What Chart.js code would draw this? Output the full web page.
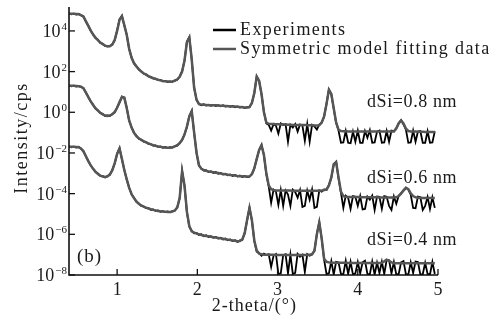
<!DOCTYPE html>
<html><head><meta charset="utf-8">
<script src="https://cdn.jsdelivr.net/npm/chart.js@4/dist/chart.umd.min.js"></script>
<style>html,body{margin:0;padding:0;background:#fff}canvas{display:block}</style>
</head><body>
<canvas id="c" width="500" height="324"></canvas>
<script>
// 2-theta sample positions (degrees)
const xGrid = [
0.40,0.43,0.46,0.49,0.52,0.55,0.58,0.61,0.64,0.67,
0.70,0.73,0.76,0.79,0.82,0.85,0.88,0.91,0.94,0.97,
1.00,1.03,1.06,1.09,1.12,1.15,1.18,1.21,1.24,1.27,
1.30,1.33,1.36,1.39,1.42,1.45,1.48,1.51,1.54,1.57,
1.60,1.63,1.66,1.69,1.72,1.75,1.78,1.81,1.84,1.87,
1.90,1.93,1.96,1.99,2.02,2.05,2.08,2.11,2.14,2.17,
2.20,2.23,2.26,2.29,2.32,2.35,2.38,2.41,2.44,2.47,
2.50,2.53,2.56,2.59,2.62,2.65,2.68,2.71,2.74,2.77,
2.80,2.83,2.86,2.89,2.92,2.95,2.98,3.01,3.04,3.07,
3.10,3.13,3.16,3.19,3.22,3.25,3.28,3.31,3.34,3.37,
3.40,3.43,3.46,3.49,3.52,3.55,3.58,3.61,3.64,3.67,
3.70,3.73,3.76,3.79,3.82,3.85,3.88,3.91,3.94,3.97,
4.00,4.03,4.06,4.09,4.12,4.15,4.18,4.21,4.24,4.27,
4.30,4.33,4.36,4.39,4.42,4.45,4.48,4.51,4.54,4.57,
4.60,4.63,4.66,4.69,4.72,4.75,4.78,4.81,4.84,4.87,
4.90,4.93,4.96];

// log10(intensity / cps)
// dSi = 0.8 nm
const topFitLog = [
4.84,4.84,4.84,4.83,4.82,4.78,4.70,4.48,4.25,4.03,
3.82,3.67,3.55,3.43,3.35,3.28,3.24,3.26,3.33,3.56,
4.00,4.55,4.72,4.28,3.80,3.12,2.68,2.42,2.25,2.12,
2.00,1.92,1.85,1.78,1.72,1.68,1.64,1.60,1.57,1.54,
1.52,1.51,1.50,1.52,1.55,1.62,1.74,2.00,2.55,3.45,
3.68,2.60,1.20,0.62,0.40,0.38,0.37,0.36,0.35,0.35,
0.34,0.34,0.33,0.32,0.32,0.31,0.30,0.30,0.29,0.28,
0.27,0.26,0.25,0.24,0.23,0.26,0.45,0.95,1.75,1.55,
0.90,0.00,-0.50,-0.57,-0.58,-0.58,-0.59,-0.59,-0.60,-0.60,
-0.60,-0.61,-0.61,-0.62,-0.62,-0.62,-0.63,-0.63,-0.63,-0.64,
-0.64,-0.64,-0.65,-0.65,-0.64,-0.50,-0.20,0.40,1.10,0.90,
0.20,-0.50,-0.85,-0.92,-0.93,-0.93,-0.94,-0.94,-0.94,-0.94,
-0.94,-0.94,-0.94,-0.94,-0.94,-0.95,-0.95,-0.95,-0.95,-0.95,
-0.95,-0.95,-0.95,-0.95,-0.95,-0.95,-0.80,-0.55,-0.40,-0.55,
-0.80,-0.92,-0.94,-0.95,-0.95,-0.96,-0.96,-0.96,-0.97,-0.97,
-0.97,-0.97,-0.97];
const topExpLog = [
4.86,4.82,4.85,4.81,4.84,4.76,4.72,4.46,4.27,4.01,
3.84,3.65,3.57,3.41,3.37,3.26,3.25,3.24,3.35,3.54,
4.03,4.57,4.75,4.25,3.82,3.10,2.70,2.40,2.27,2.10,
2.02,1.90,1.87,1.76,1.74,1.66,1.65,1.58,1.59,1.52,
1.54,1.49,1.52,1.50,1.57,1.60,1.76,2.02,2.53,3.48,
3.70,2.58,1.22,0.60,0.42,0.35,0.39,0.33,0.37,0.32,
0.36,0.31,0.35,0.29,0.34,0.28,0.32,0.27,0.31,0.25,
0.29,0.23,0.27,0.21,0.25,0.24,0.47,0.93,1.77,1.53,
0.88,0.02,-0.55,-0.62,-0.90,-0.58,-0.66,-1.05,-0.55,-0.62,
-0.58,-1.45,-0.62,-0.75,-0.58,-0.95,-0.60,-0.66,-1.40,-0.58,
-1.45,-0.62,-0.70,-0.85,-0.60,-0.52,-0.22,0.42,1.12,0.88,
0.18,-0.52,-0.90,-1.50,-1.48,-0.92,-1.50,-1.52,-0.95,-1.45,
-0.90,-1.50,-1.50,-0.92,-1.25,-0.88,-1.50,-1.48,-0.95,-0.90,
-1.50,-1.48,-0.92,-1.45,-0.90,-0.93,-0.78,-0.53,-0.38,-0.60,
-0.85,-1.50,-1.48,-0.90,-1.45,-0.95,-0.92,-1.50,-1.50,-0.93,
-1.50,-1.48,-0.94];

// dSi = 0.6 nm
const midFitLog = [
1.30,1.30,1.30,1.29,1.28,1.26,1.18,0.98,0.75,0.55,
0.36,0.20,0.08,-0.02,-0.10,-0.16,-0.18,-0.16,-0.10,0.02,
0.22,0.50,0.75,0.72,0.20,-0.40,-0.75,-1.00,-1.17,-1.28,
-1.36,-1.42,-1.48,-1.53,-1.58,-1.62,-1.65,-1.68,-1.70,-1.72,
-1.73,-1.74,-1.74,-1.72,-1.68,-1.62,-1.52,-1.35,-1.10,-0.70,
-0.20,0.05,-1.00,-2.00,-2.60,-2.78,-2.84,-2.88,-2.91,-2.93,
-2.95,-2.97,-2.99,-3.01,-3.03,-3.05,-3.07,-3.09,-3.10,-3.11,
-3.13,-3.14,-3.15,-3.16,-3.16,-3.15,-3.05,-2.75,-2.30,-1.85,
-1.62,-2.10,-3.00,-3.60,-3.78,-3.82,-3.84,-3.85,-3.85,-3.85,
-3.85,-3.85,-3.85,-3.86,-3.86,-3.86,-3.86,-3.86,-3.86,-3.86,
-3.86,-3.86,-3.86,-3.86,-3.86,-3.85,-3.82,-3.80,-3.60,-3.20,
-2.55,-2.45,-3.20,-3.90,-4.12,-4.15,-4.16,-4.16,-4.17,-4.17,
-4.17,-4.17,-4.18,-4.18,-4.18,-4.18,-4.18,-4.18,-4.18,-4.19,
-4.19,-4.19,-4.19,-4.19,-4.19,-4.19,-4.18,-4.12,-4.00,-3.85,
-3.72,-3.78,-3.98,-4.12,-4.18,-4.20,-4.20,-4.21,-4.21,-4.21,
-4.22,-4.22,-4.22];
const midExpLog = [
1.32,1.28,1.31,1.27,1.30,1.24,1.20,0.96,0.77,0.53,
0.38,0.18,0.10,-0.04,-0.08,-0.18,-0.16,-0.18,-0.08,0.00,
0.24,0.48,0.77,0.70,0.22,-0.42,-0.73,-1.02,-1.15,-1.30,
-1.34,-1.44,-1.46,-1.55,-1.56,-1.64,-1.63,-1.70,-1.68,-1.74,
-1.71,-1.76,-1.72,-1.74,-1.66,-1.64,-1.50,-1.37,-1.08,-0.72,
-0.18,0.07,-1.02,-1.98,-2.62,-2.76,-2.86,-2.85,-2.94,-2.90,
-2.98,-2.94,-3.02,-2.98,-3.06,-3.02,-3.10,-3.06,-3.13,-3.08,
-3.16,-3.11,-3.18,-3.13,-3.19,-3.17,-3.03,-2.77,-2.28,-1.87,
-1.60,-2.12,-3.05,-3.65,-4.45,-3.80,-3.90,-4.55,-3.82,-4.60,
-3.85,-4.05,-4.60,-3.80,-3.92,-4.20,-3.82,-4.65,-4.60,-3.85,
-4.30,-3.80,-4.70,-4.65,-3.84,-3.90,-3.80,-3.82,-3.58,-3.22,
-2.57,-2.43,-3.25,-3.95,-4.70,-4.10,-4.20,-4.75,-4.12,-4.15,
-4.60,-4.12,-4.78,-4.75,-4.15,-4.30,-4.10,-4.80,-4.14,-4.16,
-4.75,-4.12,-4.15,-4.60,-4.80,-4.14,-4.50,-4.10,-3.98,-3.83,
-3.70,-3.80,-4.05,-4.70,-4.72,-4.15,-4.18,-4.80,-4.60,-4.16,
-4.75,-4.18,-4.70];

// dSi = 0.4 nm
const botFitLog = [
-1.70,-1.70,-1.70,-1.71,-1.72,-1.78,-1.92,-2.15,-2.40,-2.60,
-2.78,-2.92,-3.03,-3.11,-3.16,-3.18,-3.15,-3.05,-2.85,-2.50,
-2.05,-1.78,-2.30,-2.85,-3.30,-3.72,-4.02,-4.22,-4.38,-4.50,
-4.58,-4.64,-4.69,-4.73,-4.77,-4.80,-4.83,-4.85,-4.87,-4.88,
-4.89,-4.90,-4.90,-4.88,-4.82,-4.68,-4.20,-2.90,-3.60,-4.90,
-5.60,-5.85,-5.92,-5.96,-6.00,-6.03,-6.06,-6.08,-6.10,-6.12,
-6.14,-6.16,-6.18,-6.20,-6.22,-6.24,-6.26,-6.28,-6.30,-6.32,
-6.34,-6.33,-6.25,-5.95,-5.30,-4.70,-5.30,-6.30,-6.80,-6.95,
-6.98,-7.00,-7.00,-7.01,-7.01,-7.01,-7.02,-7.02,-7.02,-7.02,
-7.02,-7.02,-7.02,-7.02,-7.02,-7.02,-7.02,-7.02,-7.02,-7.02,
-7.00,-6.98,-6.80,-6.00,-5.42,-6.20,-7.20,-7.35,-7.38,-7.40,
-7.40,-7.40,-7.40,-7.40,-7.40,-7.40,-7.41,-7.41,-7.41,-7.41,
-7.41,-7.41,-7.41,-7.41,-7.41,-7.41,-7.41,-7.41,-7.41,-7.41,
-7.40,-7.33,-7.25,-7.30,-7.38,-7.42,-7.42,-7.42,-7.42,-7.42,
-7.42,-7.42,-7.42,-7.42,-7.42,-7.42,-7.42,-7.42,-7.42,-7.42,
-7.42,-7.42,-7.42];
const botExpLog = [
-1.68,-1.72,-1.69,-1.73,-1.70,-1.80,-1.90,-2.17,-2.38,-2.62,
-2.76,-2.94,-3.01,-3.13,-3.14,-3.20,-3.13,-3.07,-2.83,-2.52,
-2.03,-1.76,-2.32,-2.83,-3.32,-3.70,-4.04,-4.20,-4.40,-4.48,
-4.60,-4.62,-4.71,-4.71,-4.79,-4.78,-4.85,-4.83,-4.89,-4.86,
-4.91,-4.88,-4.92,-4.86,-4.84,-4.66,-4.22,-2.88,-3.62,-4.92,
-5.62,-5.83,-5.95,-5.93,-6.03,-6.00,-6.09,-6.05,-6.13,-6.09,
-6.17,-6.13,-6.21,-6.17,-6.25,-6.21,-6.29,-6.25,-6.33,-6.29,
-6.37,-6.30,-6.28,-5.93,-5.32,-4.68,-5.32,-6.32,-6.85,-6.92,
-7.05,-6.95,-7.02,-6.98,-7.60,-7.05,-6.97,-7.95,-7.92,-7.02,
-6.98,-7.92,-7.00,-7.95,-7.90,-6.96,-7.10,-7.00,-7.85,-6.97,
-7.05,-6.98,-6.82,-5.98,-5.40,-6.22,-7.25,-7.95,-7.92,-7.32,
-7.98,-7.35,-7.38,-7.95,-7.96,-7.30,-7.95,-7.35,-7.98,-7.92,
-7.36,-7.92,-7.38,-7.30,-7.95,-7.97,-7.34,-7.98,-7.40,-7.90,
-7.35,-7.95,-7.25,-7.28,-7.92,-7.36,-7.98,-7.95,-7.38,-7.32,
-7.96,-7.98,-7.38,-7.90,-7.34,-7.36,-7.98,-7.96,-7.40,-7.95,
-7.97,-7.36,-7.95];

const xTicks = [1, 2, 3, 4, 5];
const yTickExps = [-8, -6, -4, -2, 0, 2, 4];
const legendLabels = ['Experiments', 'Symmetric model fitting data'];
const curveLabels = ['dSi=0.8 nm', 'dSi=0.6 nm', 'dSi=0.4 nm'];
const panelLabel = '(b)';
const xTitle = '2-theta/(\u00B0)';
const yTitle = 'Intensity/cps';

const EXP_COLOR = '#000000';
const FIT_COLOR = '#565656';
const SERIF = '"Liberation Serif", "Times New Roman", serif';

function pts(logs) { return logs.map((v, i) => ({ x: xGrid[i], y: Math.pow(10, v) })); }
function expSet(logs) { return { label: legendLabels[0], data: pts(logs), borderColor: EXP_COLOR, borderWidth: 1.8, order: 2 }; }
function fitSet(logs) { return { label: legendLabels[1], data: pts(logs), borderColor: FIT_COLOR, borderWidth: 2.5, order: 1 }; }

const decor = {
  id: 'decor',
  afterDraw(chart) {
    const { ctx, chartArea: a, scales: { x, y } } = chart;
    ctx.save();
    ctx.strokeStyle = '#111';
    ctx.lineWidth = 1.6;
    ctx.beginPath();
    ctx.moveTo(a.left, a.top); ctx.lineTo(a.left, a.bottom); ctx.lineTo(a.right, a.bottom);
    ctx.stroke();
    ctx.lineWidth = 1.3;
    xTicks.forEach(v => { const px = x.getPixelForValue(v); ctx.beginPath(); ctx.moveTo(px, a.bottom); ctx.lineTo(px, a.bottom - 6); ctx.stroke(); });
    yTickExps.forEach(e => { const py = y.getPixelForValue(Math.pow(10, e)); ctx.beginPath(); ctx.moveTo(a.left, py); ctx.lineTo(a.left + 6, py); ctx.stroke(); });

    ctx.fillStyle = '#1a1a1a';
    ctx.textBaseline = 'alphabetic';
    ctx.font = '18px ' + SERIF;
    ctx.textAlign = 'center';
    xTicks.forEach(v => ctx.fillText(String(v), x.getPixelForValue(v), a.bottom + 20));
    ctx.textAlign = 'left';
    yTickExps.forEach(e => {
      const py = y.getPixelForValue(Math.pow(10, e));
      const ex = e < 0 ? '\u2212' + (-e) : String(e);
      ctx.font = '18px ' + SERIF; const w1 = ctx.measureText('10').width;
      ctx.font = '11px ' + SERIF; const w2 = ctx.measureText(ex).width;
      const x0 = a.left - 2 - w2 - 1 - w1;
      ctx.font = '18px ' + SERIF; ctx.fillText('10', x0, py + 6);
      ctx.font = '11px ' + SERIF; ctx.fillText(ex, x0 + w1 + 1, py - 1);
    });
    ctx.font = '18px ' + SERIF;
    ctx.letterSpacing = '1px';
    ctx.textAlign = 'center';
    ctx.fillText(xTitle, x.getPixelForValue(2.71), 311);
    ctx.save();
    ctx.letterSpacing = '1.5px';
    ctx.translate(27, 138);
    ctx.rotate(-Math.PI / 2);
    ctx.fillText(yTitle, 0, 0);
    ctx.restore();
    ctx.letterSpacing = '1.4px';
    ctx.textAlign = 'left';
    ctx.lineWidth = 2.5;
    [[EXP_COLOR, 30, 35], [FIT_COLOR, 49, 54]].forEach((s, i) => {
      ctx.strokeStyle = s[0];
      ctx.beginPath(); ctx.moveTo(213, s[1]); ctx.lineTo(236, s[1]); ctx.stroke();
      ctx.fillText(legendLabels[i], 240, s[2]);
    });
    ctx.letterSpacing = '0.6px';
    [107, 183, 245].forEach((b, i) => ctx.fillText(curveLabels[i], 367, b));
    ctx.font = '19px ' + SERIF;
    ctx.letterSpacing = '1px';
    ctx.fillText(panelLabel, 77, 262);
    ctx.restore();
  }
};

new Chart(document.getElementById('c'), {
  type: 'line',
  data: { datasets: [
    fitSet(topFitLog), fitSet(midFitLog), fitSet(botFitLog),
    expSet(topExpLog), expSet(midExpLog), expSet(botExpLog)
  ] },
  options: {
    responsive: false,
    animation: false,
    devicePixelRatio: 1,
    layout: { padding: { left: 69, right: 62, top: 7, bottom: 49 } },
    elements: { line: { tension: 0, fill: false }, point: { radius: 0, hitRadius: 0 } },
    scales: {
      x: { type: 'linear', min: 0.4, max: 5, display: false },
      y: { type: 'logarithmic', min: 1e-8, max: 1.5e5, display: false }
    },
    plugins: { legend: { display: false }, tooltip: { enabled: false } }
  },
  plugins: [decor]
});
</script>
</body></html>
